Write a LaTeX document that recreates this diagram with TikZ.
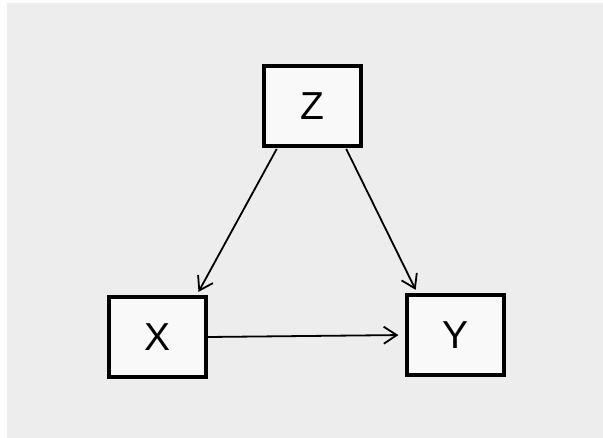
\documentclass[tikz,border=0pt]{standalone}
\usepackage{fontspec}
\setmainfont{Liberation Sans}
\usetikzlibrary{arrows.meta,calc}
\definecolor{bggray}{HTML}{EDEDED}
\definecolor{boxfill}{HTML}{F9F9F9}
\begin{document}
\begin{tikzpicture}[x=1pt,y=-1pt,
  var/.style={draw=black,line width=3.2pt,fill=boxfill,minimum width=97pt,minimum height=80pt,inner sep=0pt,font=\fontsize{39}{39}\selectfont},
  edge/.style={line width=1.8pt,-{Straight Barb[length=13pt,width=17pt,line width=1.8pt]}}]
\useasboundingbox (0,0) rectangle (603,438);
\fill[bggray] (7,3) rectangle (603,438);
\node[var] (Z) at (312.5,106) {Z};
\node[var] (X) at (157.5,337) {X};
\node[var] (Y) at (455.5,335) {Y};
\coordinate (zl) at ($(Z.south west)!0.15!(Z.south east)$);
\coordinate (zr) at ($(Z.south east)!0.17!(Z.south west)$);
\coordinate (xt) at ($(X.north east)!0.11!(X.north west)$);
\coordinate (yt) at ($(Y.north west)!0.12!(Y.north east)$);
\draw[edge,shorten <=1.5pt,shorten >=4pt] (zl) -- (xt);
\draw[edge,shorten <=1.5pt,shorten >=4pt] (zr) -- (yt);
\draw[edge,shorten >=7pt] (X.east) -- (Y.west);
\end{tikzpicture}
\end{document}
